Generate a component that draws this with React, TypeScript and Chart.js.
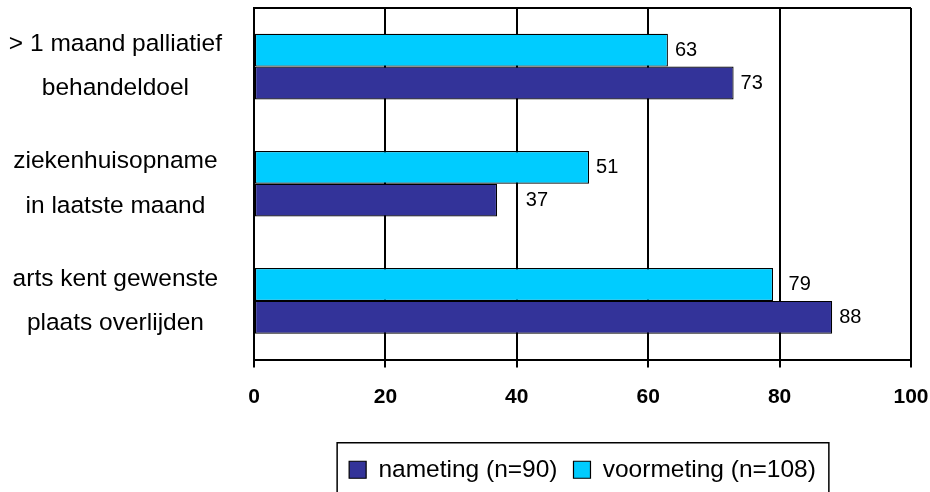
import React, { useEffect, useRef } from "react";
import { Chart, registerables } from "chart.js";

Chart.register(...registerables);

const categories: string[][] = [
  ["> 1 maand palliatief", "behandeldoel"],
  ["ziekenhuisopname", "in laatste maand"],
  ["arts kent gewenste", "plaats overlijden"],
];
const voormeting: number[] = [63, 51, 79];
const nameting: number[] = [73, 37, 88];
const seriesNames = { voormeting: "voormeting (n=108)", nameting: "nameting (n=90)" };
const xTicks: number[] = [0, 20, 40, 60, 80, 100];

const FONT = "'Liberation Sans', Arial, sans-serif";

const valueLabels = {
  id: "valueLabels",
  afterDatasetsDraw(chart: any) {
    const ctx = chart.ctx;
    const xs = chart.scales.x;
    ctx.save();
    ctx.font = `20px ${FONT}`;
    ctx.fillStyle = "#000";
    ctx.textBaseline = "middle";
    ctx.textAlign = "left";
    chart.data.datasets.forEach((ds: any, di: number) => {
      const meta = chart.getDatasetMeta(di);
      meta.data.forEach((el: any, i: number) => {
        const txt = String(ds.data[i]);
        const w = ctx.measureText(txt).width;
        let start = el.x + 7;
        for (const t of xTicks) {
          const gp = xs.getPixelForValue(t);
          if (gp >= start - 3 && gp <= start + w + 3) {
            start = gp + 9;
          }
        }
        ctx.fillText(txt, start, el.y);
      });
    });
    ctx.restore();
  },
};

const frameAndLegendBox = {
  id: "frameAndLegendBox",
  afterDraw(chart: any) {
    const ctx = chart.ctx;
    const ca = chart.chartArea;
    ctx.save();
    ctx.strokeStyle = "#000";
    ctx.lineWidth = 2;
    ctx.beginPath();
    ctx.moveTo(ca.left, ca.top);
    ctx.lineTo(ca.right, ca.top);
    ctx.stroke();
    const lg = chart.legend;
    const hb = lg && lg.legendHitBoxes;
    if (hb && hb.length) {
      const first = hb[0];
      const last = hb[hb.length - 1];
      const left = first.left - 12;
      const right = last.left + last.width + 13;
      const top = first.top + first.height / 2 - 27;
      ctx.lineWidth = 1.5;
      ctx.strokeRect(left, top, right - left, chart.height + 20 - top);
    }
    ctx.restore();
  },
};

export default function App() {
  const ref = useRef<HTMLCanvasElement | null>(null);
  useEffect(() => {
    document.body.style.margin = "0";
    if (!ref.current) return;
    Chart.defaults.font.family = FONT;
    Chart.defaults.color = "#000";
    const chart = new Chart(ref.current, {
      type: "bar",
      data: {
        labels: categories,
        datasets: [
          {
            label: seriesNames.voormeting,
            data: voormeting,
            backgroundColor: "#00CCFF",
            borderColor: "#000000",
            borderWidth: 1.2,
            borderSkipped: false,
            categoryPercentage: 0.56,
            barPercentage: 1,
          },
          {
            label: seriesNames.nameting,
            data: nameting,
            backgroundColor: "#333399",
            borderColor: "#000000",
            borderWidth: 1.2,
            borderSkipped: false,
            categoryPercentage: 0.56,
            barPercentage: 1,
          },
        ],
      },
      options: {
        indexAxis: "y",
        animation: false,
        responsive: false,
        maintainAspectRatio: false,
        layout: { padding: { left: 0, right: 19, top: 8, bottom: 0 } },
        scales: {
          x: {
            min: 0,
            max: 100,
            afterBuildTicks(scale: any) {
              scale.ticks = xTicks.map((v) => ({ value: v }));
            },
            afterFit(scale: any) {
              scale.height = 82;
              scale.paddingLeft = 0;
              scale.paddingRight = 0;
            },
            grid: { color: "#000", lineWidth: 2, tickLength: 8, drawTicks: true },
            border: { display: true, color: "#000", width: 2 },
            ticks: {
              padding: 17,
              font: { size: 21, weight: "bold" },
              color: "#000",
            },
          },
          y: {
            afterFit(scale: any) {
              scale.width = 254;
              scale.paddingTop = 0;
              scale.paddingBottom = 0;
            },
            grid: { display: false },
            border: { display: true, color: "#000", width: 2 },
            ticks: {
              crossAlign: "center",
              padding: 24,
              font: { size: 24.5, lineHeight: 1.8 },
              color: "#000",
            },
          },
        },
        plugins: {
          legend: {
            position: "bottom",
            fullSize: false,
            reverse: true,
            labels: {
              boxWidth: 17,
              boxHeight: 17,
              padding: 16,
              font: { size: 24.5 },
              color: "#000",
            },
          },
          tooltip: { enabled: false },
          title: { display: false },
        },
      } as any,
      plugins: [valueLabels, frameAndLegendBox],
    });
    return () => chart.destroy();
  }, []);
  return (
    <div style={{ width: 930, height: 492, background: "#fff" }}>
      <canvas ref={ref} width={930} height={492} />
    </div>
  );
}
